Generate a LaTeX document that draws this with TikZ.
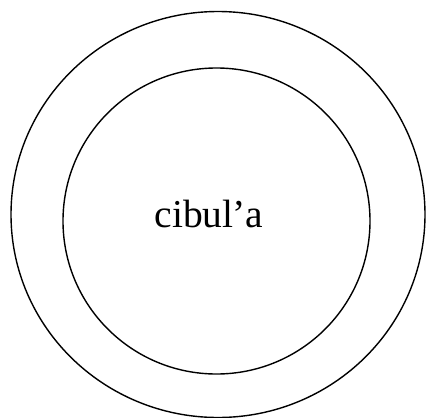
\documentclass[tikz,border=0pt]{standalone}
\usepackage{fontspec}
\setmainfont{Liberation Serif}
\begin{document}
\begin{tikzpicture}[x=1pt,y=-1pt,
  ring/.style={draw=black,line width=1.4pt}]
\useasboundingbox (0,0) rectangle (429,418);
\draw[ring] (218,214.5) ellipse [x radius=207, y radius=203];
\draw[ring] (216.5,221) ellipse [x radius=153.5, y radius=153];
\node[font=\fontsize{39.5}{44}\selectfont,inner sep=0pt] (t) at (209,214) {cibul\kern-1pt’a};
\end{tikzpicture}
\end{document}
